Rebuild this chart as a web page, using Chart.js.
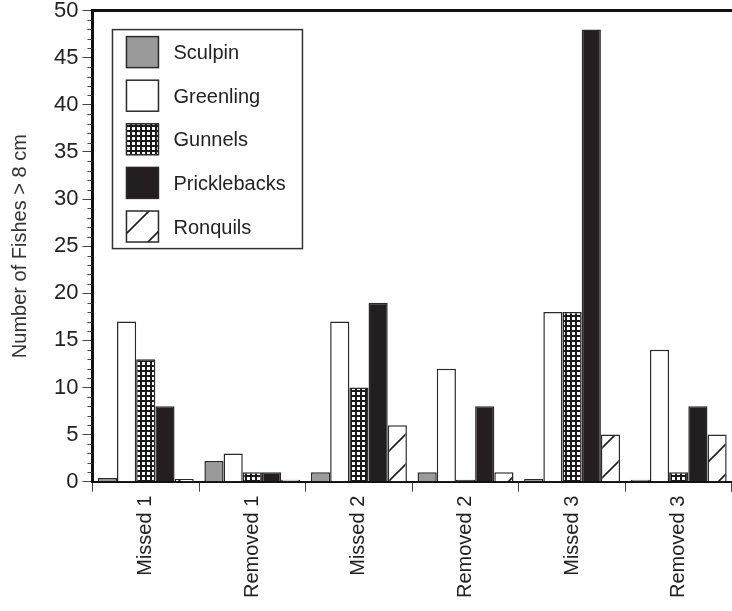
<!DOCTYPE html>
<html>
<head>
<meta charset="utf-8">
<script src="https://cdn.jsdelivr.net/npm/chart.js@4.4.7/dist/chart.umd.min.js"></script>
<style>
  html, body { margin: 0; padding: 0; background: #fff; }
  #chart { display: block; }
</style>
</head>
<body>
<canvas id="chart" width="732" height="611"></canvas>
<script>
const categories = ['Missed 1', 'Removed 1', 'Missed 2', 'Removed 2', 'Missed 3', 'Removed 3'];
const sculpin = [0.4, 2.2, 1, 1, 0.3, 0.2];
const greenling = [17, 3, 17, 12, 18, 14];
const gunnels = [13, 1, 10, 0.2, 18, 1];
const pricklebacks = [8, 1, 19, 8, 48, 8];
const ronquils = [0.3, 0.2, 6, 1, 5, 5];
const yTicks = [0, 5, 10, 15, 20, 25, 30, 35, 40, 45, 50];

const FONT = '"Liberation Sans", Arial, Helvetica, sans-serif';
const EDGE = '#2a2a2a';

function gridPattern() {
  const c = document.createElement('canvas');
  c.width = 5; c.height = 5;
  const g = c.getContext('2d');
  g.fillStyle = '#1a1a1a';
  g.fillRect(0, 0, 5, 5);
  g.fillStyle = '#fff';
  g.fillRect(2, 2, 3, 3);
  return g.createPattern(c, 'repeat');
}

function hatchPattern() {
  const n = 30;
  const c = document.createElement('canvas');
  c.width = n; c.height = n;
  const g = c.getContext('2d');
  g.fillStyle = '#fff';
  g.fillRect(0, 0, n, n);
  g.strokeStyle = '#1e1e1e';
  g.lineWidth = 1.6;
  g.beginPath();
  g.moveTo(-2, n + 2); g.lineTo(n + 2, -2);
  g.moveTo(-2, 2); g.lineTo(2, -2);
  g.moveTo(n - 2, n + 2); g.lineTo(n + 2, n - 2);
  g.stroke();
  return g.createPattern(c, 'repeat');
}

const series = [
  { label: 'Sculpin', data: sculpin, fill: '#9a9a9a' },
  { label: 'Greenling', data: greenling, fill: '#ffffff' },
  { label: 'Gunnels', data: gunnels, fill: gridPattern() },
  { label: 'Pricklebacks', data: pricklebacks, fill: '#231f20' },
  { label: 'Ronquils', data: ronquils, fill: hatchPattern() },
];

// boxed legend inside the plot, top-left
const boxLegend = {
  id: 'boxLegend',
  afterDraw(chart) {
    const { ctx, chartArea } = chart;
    const x0 = chartArea.left + 20, y0 = chartArea.top + 19;
    ctx.save();
    ctx.fillStyle = '#fff';
    ctx.fillRect(x0, y0, 190, 219);
    ctx.strokeStyle = '#333';
    ctx.lineWidth = 1.5;
    ctx.strokeRect(x0, y0, 190, 219);
    ctx.font = '20px ' + FONT;
    ctx.textBaseline = 'middle';
    chart.data.datasets.forEach((ds, i) => {
      const sy = y0 + 7 + i * 43.6;
      ctx.fillStyle = ds.backgroundColor;
      ctx.fillRect(x0 + 14, sy, 32, 31);
      ctx.strokeStyle = EDGE;
      ctx.lineWidth = 1.5;
      ctx.strokeRect(x0 + 14, sy, 32, 31);
      ctx.fillStyle = '#222';
      ctx.fillText(ds.label, x0 + 61, sy + 17);
    });
    ctx.restore();
  },
};

// frame top line and minor ticks on y
const frame = {
  id: 'frame',
  afterDraw(chart) {
    const { ctx, chartArea } = chart;
    const y = chart.scales.y;
    ctx.save();
    ctx.strokeStyle = '#111';
    ctx.lineWidth = 3;
    ctx.beginPath();
    ctx.moveTo(chartArea.left, chartArea.top);
    ctx.lineTo(chartArea.right, chartArea.top);
    ctx.stroke();
    ctx.strokeStyle = '#444';
    ctx.lineWidth = 1;
    ctx.beginPath();
    for (let v = 1; v < 50; v += 1) {
      if (v % 5 === 0) continue;
      const py = Math.round(y.getPixelForValue(v)) + 0.5;
      ctx.moveTo(chartArea.left - 5, py);
      ctx.lineTo(chartArea.left, py);
    }
    ctx.stroke();
    ctx.restore();
  },
};

new Chart(document.getElementById('chart'), {
  type: 'bar',
  data: {
    labels: categories,
    datasets: series.map((s) => ({
      label: s.label,
      data: s.data,
      backgroundColor: s.fill,
      borderColor: EDGE,
      borderWidth: 1.5,
      categoryPercentage: 0.9,
      barPercentage: 1,
    })),
  },
  options: {
    responsive: false,
    devicePixelRatio: 1,
    animation: false,
    layout: { padding: { left: 4, top: 3, right: 0, bottom: 9 } },
    plugins: { legend: { display: false }, tooltip: { enabled: false } },
    scales: {
      x: {
        grid: { offset: true, drawOnChartArea: false, tickLength: 10, tickColor: '#444', tickWidth: 1 },
        border: { color: '#111', width: 2 },
        ticks: { font: { family: FONT, size: 20 }, color: '#222', minRotation: 90, maxRotation: 90, padding: 4 },
      },
      y: {
        min: 0,
        max: 50,
        afterBuildTicks: (scale) => { scale.ticks = yTicks.map((v) => ({ value: v })); },
        grid: { drawOnChartArea: false, tickLength: 10, tickColor: '#444', tickWidth: 1 },
        border: { color: '#111', width: 3 },
        ticks: { font: { family: FONT, size: 22, lineHeight: 0.6 }, color: '#222', padding: 4 },
        title: {
          display: true,
          text: 'Number of Fishes > 8 cm',
          font: { family: FONT, size: 20 },
          color: '#333',
          padding: { top: 4, bottom: 18 },
        },
      },
    },
  },
  plugins: [boxLegend, frame],
});
</script>
</body>
</html>
